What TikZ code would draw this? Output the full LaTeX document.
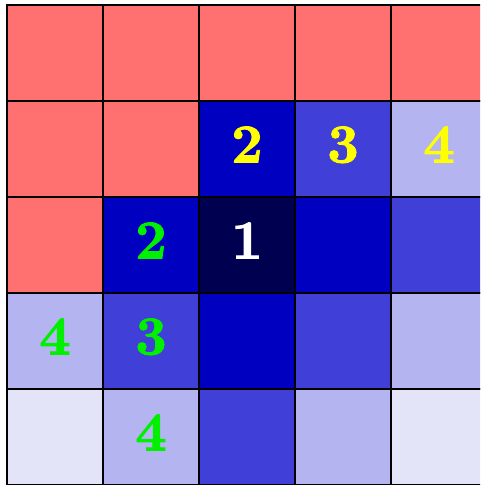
\documentclass[tikz,border=0pt]{standalone}
\usepackage{fontspec}
\newfontfamily\digfont{lmroman10-bold}[Extension=.otf, FakeBold=1.6]
\definecolor{cred}{RGB}{255,112,112}
\definecolor{cnavy}{RGB}{0,0,80}
\definecolor{cblue}{RGB}{0,0,192}
\definecolor{cmed}{RGB}{64,64,216}
\definecolor{clight}{RGB}{180,180,240}
\definecolor{cvl}{RGB}{228,228,248}
\definecolor{cgreen}{RGB}{0,240,0}
\definecolor{cyellow}{RGB}{255,255,0}
\tikzset{
  cell/.style={draw=black, line width=1.2pt, minimum width=96pt, minimum height=96pt, inner sep=0pt, outer sep=0pt, anchor=north west,
    text height=37pt, text depth=10pt, font=\fontsize{55}{58}\selectfont\digfont},
}
\begin{document}
\begin{tikzpicture}[x=1pt,y=-1pt]
\useasboundingbox (0,0) rectangle (480,485);
\begin{scope}
\clip (0,0) rectangle (480,484.4);
% row 0
\node[cell,fill=cred] (r0c0) at (7,5) {};
\node[cell,fill=cred] (r0c1) at (103,5) {};
\node[cell,fill=cred] (r0c2) at (199,5) {};
\node[cell,fill=cred] (r0c3) at (295,5) {};
\node[cell,fill=cred] (r0c4) at (391,5) {};
% row 1
\node[cell,fill=cred] (r1c0) at (7,101) {};
\node[cell,fill=cred] (r1c1) at (103,101) {};
\node[cell,fill=cblue,text=cyellow] (r1c2) at (199,101) {2};
\node[cell,fill=cmed,text=cyellow] (r1c3) at (295,101) {3};
\node[cell,fill=clight,text=cyellow] (r1c4) at (391,101) {4};
% row 2
\node[cell,fill=cred] (r2c0) at (7,197) {};
\node[cell,fill=cblue,text=cgreen] (r2c1) at (103,197) {2};
\node[cell,fill=cnavy,text=white] (r2c2) at (199,197) {1};
\node[cell,fill=cblue] (r2c3) at (295,197) {};
\node[cell,fill=cmed] (r2c4) at (391,197) {};
% row 3
\node[cell,fill=clight,text=cgreen] (r3c0) at (7,293) {4};
\node[cell,fill=cmed,text=cgreen] (r3c1) at (103,293) {3};
\node[cell,fill=cblue] (r3c2) at (199,293) {};
\node[cell,fill=cmed] (r3c3) at (295,293) {};
\node[cell,fill=clight] (r3c4) at (391,293) {};
% row 4
\node[cell,fill=cvl] (r4c0) at (7,389) {};
\node[cell,fill=clight,text=cgreen] (r4c1) at (103,389) {4};
\node[cell,fill=cmed] (r4c2) at (199,389) {};
\node[cell,fill=clight] (r4c3) at (295,389) {};
\node[cell,fill=cvl] (r4c4) at (391,389) {};
\end{scope}
\end{tikzpicture}
\end{document}
